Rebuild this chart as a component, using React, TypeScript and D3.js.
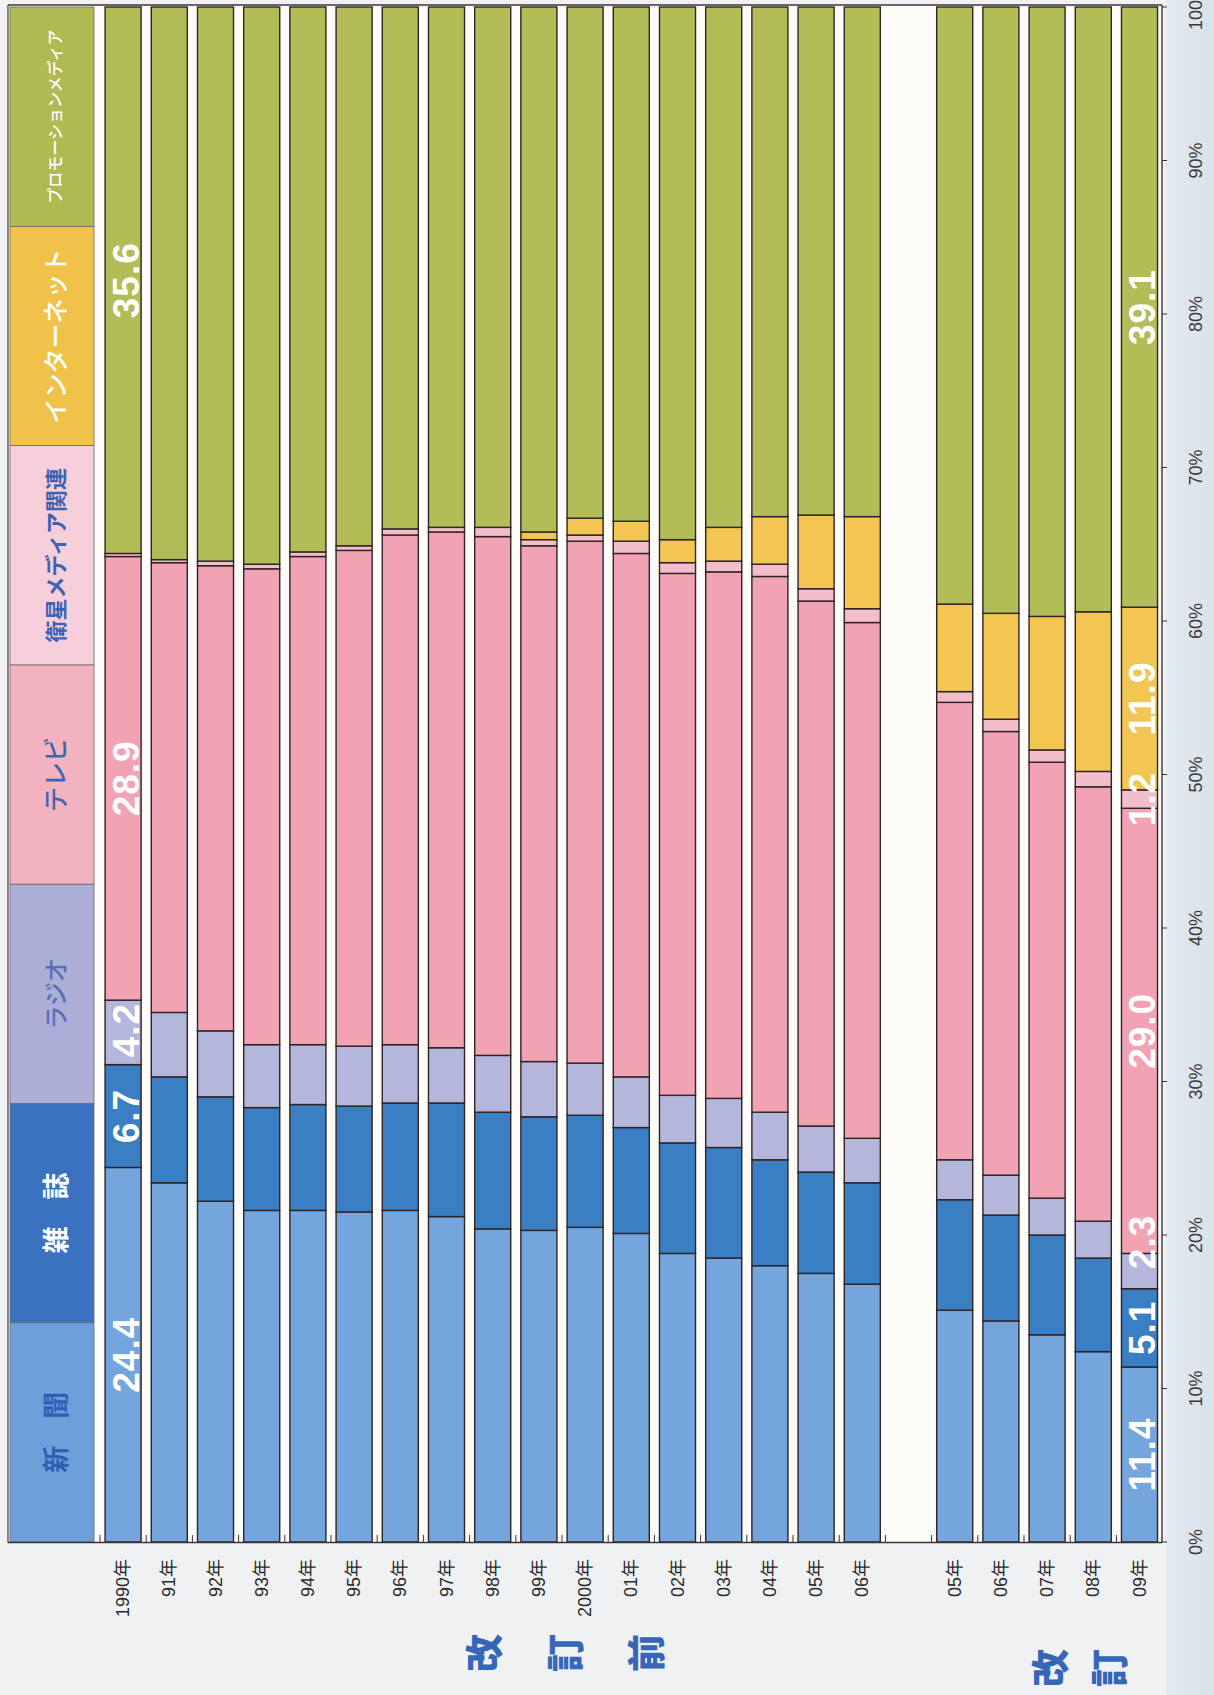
import React from 'react';
import * as d3 from 'd3';

// Share of Japanese advertising expenditure by medium (%), 1990–2006 (old basis) and 2005–2009 (revised basis)
const slotKeys = [
  '1990', '1991', '1992', '1993', '1994', '1995', '1996', '1997', '1998', '1999', '2000',
  '2001', '2002', '2003', '2004', '2005', '2006', 'blank', '2005r', '2006r', '2007r', '2008r', '2009r',
];
const yearLabels = [
  '1990年', '91年', '92年', '93年', '94年', '95年', '96年', '97年', '98年', '99年', '2000年',
  '01年', '02年', '03年', '04年', '05年', '06年', '', '05年', '06年', '07年', '08年', '09年',
];

const seriesNames = ['新聞', '雑誌', 'ラジオ', 'テレビ', '衛星メディア関連', 'インターネット', 'プロモーションメディア'];
const legendLabels = ['新　聞', '雑　誌', 'ラジオ', 'テレビ', '衛星メディア関連', 'インターネット', 'プロモーションメディア'];

const newspaper = [24.4, 23.4, 22.2, 21.6, 21.6, 21.5, 21.6, 21.2, 20.4, 20.3, 20.5, 20.1, 18.8, 18.5, 18.0, 17.5, 16.8, null, 15.1, 14.4, 13.5, 12.4, 11.4];
const magazine = [6.7, 6.9, 6.8, 6.7, 6.9, 6.9, 7.0, 7.4, 7.6, 7.4, 7.3, 6.9, 7.2, 7.2, 6.9, 6.6, 6.6, null, 7.2, 6.9, 6.5, 6.1, 5.1];
const radio = [4.2, 4.2, 4.3, 4.1, 3.9, 3.9, 3.8, 3.6, 3.7, 3.6, 3.4, 3.3, 3.1, 3.2, 3.1, 3.0, 2.9, null, 2.6, 2.6, 2.4, 2.4, 2.3];
const television = [28.9, 29.3, 30.3, 31.0, 31.8, 32.3, 33.2, 33.6, 33.8, 33.6, 34.0, 34.1, 34.0, 34.3, 34.9, 34.2, 33.6, null, 29.8, 28.9, 28.4, 28.3, 29.0];
const satellite = [0.2, 0.2, 0.3, 0.3, 0.3, 0.3, 0.4, 0.3, 0.6, 0.4, 0.4, 0.8, 0.7, 0.7, 0.8, 0.8, 0.9, null, 0.7, 0.8, 0.8, 1.0, 1.2];
const internet = [0, 0, 0, 0, 0, 0, 0, 0, 0, 0.5, 1.1, 1.3, 1.5, 2.2, 3.1, 4.8, 6.0, null, 5.7, 6.9, 8.7, 10.4, 11.9];
const promotion = [35.6, 36.0, 36.1, 36.3, 35.5, 35.1, 34.0, 33.9, 33.9, 34.2, 33.3, 33.5, 34.7, 33.9, 33.2, 33.1, 33.2, null, 38.9, 39.5, 39.7, 39.4, 39.1];

const labeledSlots = ['1990', '2009r'];
const percentTicks = [0, 10, 20, 30, 40, 50, 60, 70, 80, 90, 100];

const barColors = ['#74a5dc', '#3a7ec4', '#b4b6dc', '#f1a3b4', '#f4bdcc', '#f3c553', '#b2bd58'];
const legendFills = ['#6d9fd8', '#3a72bf', '#acaed8', '#f2b2bf', '#f6cfdb', '#f1c24a', '#afba52'];
const legendText = [
  { fill: '#2d5fb5', size: 27, weight: 700 },
  { fill: '#ffffff', size: 27, weight: 700 },
  { fill: '#5670b6', size: 24, weight: 500 },
  { fill: '#3d65b5', size: 25, weight: 500 },
  { fill: '#3a63b4', size: 22, weight: 700 },
  { fill: '#ffffff', size: 25, weight: 500 },
  { fill: '#ffffff', size: 16, weight: 500 },
];

const W = 1214;
const H = 1695;
const sans = '"Liberation Sans", Arial, "Noto Sans CJK JP", sans-serif';
const cjk = '"Noto Sans CJK JP", "Noto Sans", sans-serif';
const LABEL_SIZE = 37;

export default function App() {
  const x = d3
    .scaleBand<string>()
    .domain(slotKeys)
    .range([100, 1162.6])
    .paddingInner(0.22)
    .paddingOuter(0.11);
  const y = d3.scaleLinear().domain([0, 100]).range([1542, 7]);
  const bw = x.bandwidth();
  const gapHalf = (x.step() - bw) / 2;

  const columns = [newspaper, magazine, radio, television, satellite, internet, promotion];
  const rows = slotKeys
    .map((key, i) => {
      const row: Record<string, any> = { key, label: yearLabels[i] };
      seriesNames.forEach((s, j) => (row[s] = columns[j][i]));
      return row;
    })
    .filter((r) => r.key !== 'blank');

  const stacked = d3.stack<Record<string, any>>().keys(seriesNames)(rows);

  // Value labels: centred on their segment, nudged upward when they would collide
  const valueLabels: { id: string; text: string; cx: number; cy: number }[] = [];
  labeledSlots.forEach((slot) => {
    let prevTop = Infinity; // smallest screen y used so far (labels run bottom→top)
    stacked.forEach((layer) => {
      const d = layer.find((e) => e.data.key === slot);
      if (!d || d[1] - d[0] < 1) return;
      const text = (d.data[layer.key] as number).toFixed(1);
      const half = (text.length * LABEL_SIZE * 0.54) / 2;
      let cy = y((d[0] + d[1]) / 2);
      if (cy + half > prevTop - 26) cy = prevTop - 26 - half;
      prevTop = cy - half;
      valueLabels.push({ id: `${layer.key}-${slot}`, text, cx: x(slot)! + bw - 15, cy });
    });
  });

  const legendX0 = 10;
  const legendX1 = 94;
  const axisX = 1162;

  // Section captions under the year labels
  const midPre = (x('1999')! + x('2000')! + bw) / 2;
  const midRev = (x('2007r')! + x('2008r')! + bw) / 2 + 7;
  const preChars = ['改', '訂', '前'];
  const revChars = ['改', '訂'];

  return (
    <svg
      width={W}
      height={H}
      viewBox={`0 0 ${W} ${H}`}
      style={{ position: 'absolute', left: 0, top: 0, display: 'block' }}
    >
      <defs>
        <linearGradient id="strip" x1="0" x2="1" y1="0" y2="0">
          <stop offset="0" stopColor="#e4e9ef" />
          <stop offset="1" stopColor="#d9e1ea" />
        </linearGradient>
      </defs>

      {/* paper */}
      <rect x={0} y={0} width={W} height={H} fill="#f0f1f3" />
      <rect x={1166} y={0} width={W - 1166} height={H} fill="url(#strip)" />
      <rect x={legendX0 - 2} y={4} width={axisX - legendX0 + 2} height={1542 - 4} fill="#fdfcf8" />

      {/* legend column */}
      {seriesNames.map((s, i) => {
        const y0 = y((i * 100) / 7);
        const y1 = y(((i + 1) * 100) / 7);
        const cy = (y0 + y1) / 2;
        const cx = (legendX0 + legendX1) / 2;
        const st = legendText[i];
        return (
          <g key={s}>
            <rect
              x={legendX0}
              y={y1}
              width={legendX1 - legendX0}
              height={y0 - y1}
              fill={legendFills[i]}
              stroke="#6a6a6a"
              strokeWidth={0.8}
            />
            <text
              transform={`translate(${cx + 2},${cy}) rotate(-90)`}
              textAnchor="middle"
              dominantBaseline="central"
              fontFamily={cjk}
              fontSize={st.size}
              fontWeight={st.weight}
              fill={st.fill}
            >
              {legendLabels[i]}
            </text>
          </g>
        );
      })}

      {/* stacked bars */}
      {stacked.map((layer, si) => (
        <g key={layer.key} fill={barColors[si]}>
          {layer.map((d) => {
            const v = d[1] - d[0];
            if (!(v > 0)) return null;
            return (
              <rect
                key={d.data.key}
                x={x(d.data.key)}
                y={y(d[1])}
                width={bw}
                height={y(d[0]) - y(d[1])}
                stroke="#2e2424"
                strokeWidth={1.4}
              />
            );
          })}
        </g>
      ))}

      {/* value labels on the first and last bars */}
      {valueLabels.map((l) => (
        <text
          key={l.id}
          transform={`translate(${l.cx},${l.cy}) rotate(-90)`}
          textAnchor="middle"
          dominantBaseline="central"
          fontFamily={sans}
          fontSize={LABEL_SIZE}
          fontWeight={700}
          letterSpacing={1}
          fill="#ffffff"
        >
          {l.text}
        </text>
      ))}

      {/* frame and axes */}
      <line x1={legendX0 - 2} x2={axisX} y1={5} y2={5} stroke="#3a3434" strokeWidth={1.4} />
      <line x1={legendX0 - 2} x2={axisX} y1={1542.5} y2={1542.5} stroke="#3a3434" strokeWidth={1.6} />
      <line x1={legendX0 - 2} x2={legendX0 - 2} y1={5} y2={1542.5} stroke="#3a3434" strokeWidth={1.2} />
      <line x1={axisX} x2={axisX} y1={5} y2={1542.5} stroke="#3a3434" strokeWidth={1.4} />

      {/* category ticks */}
      {slotKeys.map((k) => (
        <line
          key={`t-${k}`}
          x1={x(k)! - gapHalf}
          x2={x(k)! - gapHalf}
          y1={1542}
          y2={1535}
          stroke="#3a3434"
          strokeWidth={1}
        />
      ))}

      {/* percentage axis */}
      {percentTicks.map((t) => (
        <g key={`p-${t}`}>
          <line x1={axisX} x2={axisX + 5} y1={y(t)} y2={y(t)} stroke="#3a3434" strokeWidth={1} />
          <text
            transform={`translate(${1196},${y(t)}) rotate(-90)`}
            textAnchor="middle"
            dominantBaseline="central"
            fontFamily={'"Liberation Sans Narrow", "Liberation Sans", Arial, sans-serif'}
            fontSize={18}
            fill="#3a3a3a"
          >
            {`${t}%`}
          </text>
        </g>
      ))}

      {/* year labels */}
      {rows.map((r) => (
        <text
          key={`y-${r.key}`}
          transform={`translate(${x(r.key)! + bw / 2},${1559}) rotate(-90)`}
          textAnchor="end"
          dominantBaseline="central"
          fontFamily={sans}
          fontSize={18}
          fill="#2b2b2b"
        >
          {r.label}
        </text>
      ))}

      {/* section captions */}
      {preChars.map((c, i) => (
        <text
          key={`pre-${i}`}
          transform={`translate(${midPre + (i - 1) * 81},${1653}) rotate(-90)`}
          textAnchor="middle"
          dominantBaseline="central"
          fontFamily={cjk}
          fontSize={38}
          fontWeight={900}
          fill="#3566b8"
        >
          {c}
        </text>
      ))}
      {revChars.map((c, i) => (
        <text
          key={`rev-${i}`}
          transform={`translate(${midRev + (i - 0.5) * 59},${1668}) rotate(-90)`}
          textAnchor="middle"
          dominantBaseline="central"
          fontFamily={cjk}
          fontSize={38}
          fontWeight={900}
          fill="#3566b8"
        >
          {c}
        </text>
      ))}
    </svg>
  );
}
